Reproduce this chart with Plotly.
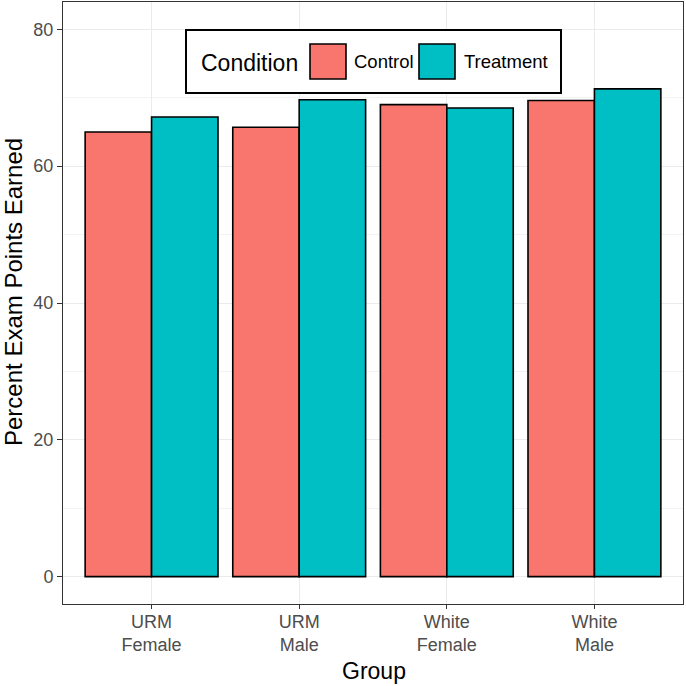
import plotly.graph_objects as go

# ---- data ----
groups = ["URM<br>Female", "URM<br>Male", "White<br>Female", "White<br>Male"]
conditions = ["Control", "Treatment"]
control_vals = [65.0, 65.7, 69.0, 69.6]
treatment_vals = [67.2, 69.7, 68.5, 71.3]
colors = {"Control": "#F8766D", "Treatment": "#00BFC4"}
y_ticks = [0, 20, 40, 60, 80]
x_title = "Group"
y_title = "Percent Exam Points Earned"
legend_title = "Condition"

FONT = "Liberation Sans, Arial, Helvetica, sans-serif"

fig = go.Figure()
for name, vals in zip(conditions, [control_vals, treatment_vals]):
    fig.add_trace(go.Bar(
        x=groups, y=vals, name=name,
        marker=dict(color=colors[name], line=dict(color="black", width=1.6)),
        showlegend=False,
    ))

fig.update_layout(
    width=686, height=686,
    margin=dict(l=63, r=3, t=2, b=82, autoexpand=False),
    paper_bgcolor="white", plot_bgcolor="white",
    barmode="group", bargap=0.1, bargroupgap=0,
    font=dict(family=FONT, color="black"),
)

fig.update_xaxes(
    type="category", range=[-0.6, 3.6], automargin=False,
    showgrid=True, gridcolor="#EBEBEB", gridwidth=1,
    showline=True, mirror=True, linecolor="#333333", linewidth=1,
    ticks="outside", ticklen=4, tickcolor="#333333", tickwidth=1,
    tickfont=dict(size=18, color="#4D4D4D", family=FONT),
    ticklabelstandoff=-3,
    zeroline=False,
)
fig.update_yaxes(
    range=[-4, 84], tickvals=y_ticks, automargin=False,
    showgrid=True, gridcolor="#EBEBEB", gridwidth=1,
    minor=dict(tickvals=[10, 30, 50, 70], showgrid=True, gridcolor="#F3F3F3", gridwidth=0.6, ticks=""),
    showline=True, mirror=True, linecolor="#333333", linewidth=1,
    ticks="outside", ticklen=5, tickcolor="#333333", tickwidth=1,
    tickfont=dict(size=18, color="#4D4D4D", family=FONT),
    zeroline=False,
)

def px_x(p):
    return (p - 63) / 620.0

def px_y(p):
    return 1 - (p - 2) / 602.0

# axis titles
fig.add_annotation(text=x_title, xref="paper", yref="paper",
                   x=px_x(374), y=px_y(671), xanchor="center", yanchor="middle",
                   showarrow=False, font=dict(size=23, color="black", family=FONT))
fig.add_annotation(text=y_title, xref="paper", yref="paper",
                   x=px_x(14), y=px_y(292), xanchor="center", yanchor="middle",
                   textangle=-90, showarrow=False,
                   font=dict(size=24, color="black", family=FONT))

# ---- manual legend (inside plot, top) ----
fig.add_shape(type="rect", xref="paper", yref="paper",
              x0=px_x(186), x1=px_x(561), y0=px_y(93), y1=px_y(30),
              line=dict(color="black", width=2), fillcolor="white", layer="above")
fig.add_annotation(text=legend_title, xref="paper", yref="paper",
                   x=px_x(199), y=px_y(63), xanchor="left", yanchor="middle",
                   showarrow=False, font=dict(size=23, color="black", family=FONT))
sq = [(310, 346, "Control", 352), (419, 455, "Treatment", 462)]
for x0, x1, label, tx in sq:
    fig.add_shape(type="rect", xref="paper", yref="paper",
                  x0=px_x(x0), x1=px_x(x1), y0=px_y(79), y1=px_y(44),
                  line=dict(color="black", width=1.6), fillcolor=colors[label], layer="above")
    fig.add_annotation(text=label, xref="paper", yref="paper",
                       x=px_x(tx), y=px_y(62), xanchor="left", yanchor="middle",
                       showarrow=False, font=dict(size=18.5, color="black", family=FONT))

fig.write_html("out.html", config={"displayModeBar": False},
               post_script="document.body.style.margin='0';document.body.style.overflow='hidden';")
